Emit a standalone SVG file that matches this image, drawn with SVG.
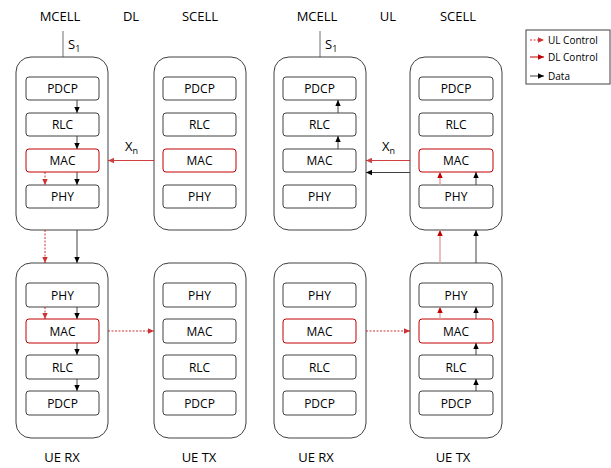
<svg xmlns="http://www.w3.org/2000/svg" width="611" height="468" viewBox="0 0 611 468">
<defs>
<style>
text{font-family:"Open Sans","Liberation Sans",sans-serif;fill:#000}
.hdr{font-size:13px;text-anchor:middle}
.lay{font-size:12px;text-anchor:middle}
.leg{font-size:10px}
.big{fill:#fff;stroke:#404040;stroke-width:1}
.in{fill:#fff;stroke:#404040;stroke-width:1}
.inr{fill:#fff;stroke:#c00000;stroke-width:1}
.blk{stroke:#404040;stroke-width:1;fill:none}
.red{stroke:#c00000;stroke-width:1;fill:none;opacity:0.75}
.redd{stroke:#c00000;stroke-width:1;fill:none;stroke-dasharray:2,1.5;opacity:0.8}
.redl{stroke:#e4a8a8;stroke-width:1.5;fill:none}
.s1{stroke:#707070;stroke-width:1}
</style>
<marker id="ab" viewBox="0 0 6 6" refX="6" refY="3" markerWidth="6" markerHeight="6" markerUnits="userSpaceOnUse" orient="auto"><path d="M0,0.3 L6,3 L0,5.7 z" fill="#000"/></marker>
<marker id="ar" viewBox="0 0 6 6" refX="6" refY="3" markerWidth="6" markerHeight="6" markerUnits="userSpaceOnUse" orient="auto"><path d="M0,0.3 L6,3 L0,5.7 z" fill="#c00000"/></marker>
</defs>
<rect width="611" height="468" fill="#fff"/>

<g id="headers">
<text class="hdr" x="60" y="21">MCELL</text>
<text class="hdr" x="131" y="21">DL</text>
<text class="hdr" x="200" y="21">SCELL</text>
<text class="hdr" x="317" y="21">MCELL</text>
<text class="hdr" x="388" y="21">UL</text>
<text class="hdr" x="458" y="21">SCELL</text>
<text class="hdr" x="62" y="462">UE RX</text>
<text class="hdr" x="199" y="462">UE TX</text>
<text class="hdr" x="316" y="462">UE RX</text>
<text class="hdr" x="453" y="462">UE TX</text>
</g>

<g id="s1-links">
<line class="s1" x1="63" y1="31" x2="63" y2="57"/>
<text x="68" y="49" font-size="13">S<tspan font-size="9" dy="3">1</tspan></text>
<line class="s1" x1="320" y1="31" x2="320" y2="57"/>
<text x="325" y="49" font-size="13">S<tspan font-size="9" dy="3">1</tspan></text>
</g>

<g id="dl-mcell">
<rect class="big" x="16" y="57" width="92" height="173" rx="15"/>
<rect class="in" x="26" y="77" width="73" height="23" rx="3"/><text class="lay" x="62.5" y="93">PDCP</text>
<rect class="in" x="26" y="113" width="73" height="23" rx="3"/><text class="lay" x="62.5" y="129">RLC</text>
<rect class="inr" x="26" y="149" width="73" height="23" rx="3"/><text class="lay" x="62.5" y="165">MAC</text>
<rect class="in" x="26" y="185" width="73" height="23" rx="3"/><text class="lay" x="62.5" y="201">PHY</text>
</g>

<g id="dl-scell">
<rect class="big" x="154" y="57" width="92" height="173" rx="15"/>
<rect class="in" x="163" y="77" width="73" height="23" rx="3"/><text class="lay" x="199.5" y="93">PDCP</text>
<rect class="in" x="163" y="113" width="73" height="23" rx="3"/><text class="lay" x="199.5" y="129">RLC</text>
<rect class="inr" x="163" y="149" width="73" height="23" rx="3"/><text class="lay" x="199.5" y="165">MAC</text>
<rect class="in" x="163" y="185" width="73" height="23" rx="3"/><text class="lay" x="199.5" y="201">PHY</text>
</g>

<g id="dl-uerx">
<rect class="big" x="16" y="263" width="92" height="175" rx="15"/>
<rect class="in" x="26" y="283" width="73" height="24" rx="3"/><text class="lay" x="62.5" y="299.5">PHY</text>
<rect class="inr" x="26" y="319" width="73" height="24" rx="3"/><text class="lay" x="62.5" y="335.5">MAC</text>
<rect class="in" x="26" y="355" width="73" height="24" rx="3"/><text class="lay" x="62.5" y="371.5">RLC</text>
<rect class="in" x="26" y="391" width="73" height="24" rx="3"/><text class="lay" x="62.5" y="407.5">PDCP</text>
</g>

<g id="dl-uetx">
<rect class="big" x="154" y="263" width="92" height="175" rx="15"/>
<rect class="in" x="163" y="283" width="73" height="24" rx="3"/><text class="lay" x="199.5" y="299.5">PHY</text>
<rect class="in" x="163" y="319" width="73" height="24" rx="3"/><text class="lay" x="199.5" y="335.5">MAC</text>
<rect class="in" x="163" y="355" width="73" height="24" rx="3"/><text class="lay" x="199.5" y="371.5">RLC</text>
<rect class="in" x="163" y="391" width="73" height="24" rx="3"/><text class="lay" x="199.5" y="407.5">PDCP</text>
</g>

<g id="ul-mcell">
<rect class="big" x="274" y="57" width="92" height="173" rx="15"/>
<rect class="in" x="283" y="77" width="73" height="23" rx="3"/><text class="lay" x="319.5" y="93">PDCP</text>
<rect class="in" x="283" y="113" width="73" height="23" rx="3"/><text class="lay" x="319.5" y="129">RLC</text>
<rect class="in" x="283" y="149" width="73" height="23" rx="3"/><text class="lay" x="319.5" y="165">MAC</text>
<rect class="in" x="283" y="185" width="73" height="23" rx="3"/><text class="lay" x="319.5" y="201">PHY</text>
</g>

<g id="ul-scell">
<rect class="big" x="410" y="57" width="92" height="173" rx="15"/>
<rect class="in" x="419" y="77" width="74" height="23" rx="3"/><text class="lay" x="456" y="93">PDCP</text>
<rect class="in" x="419" y="113" width="74" height="23" rx="3"/><text class="lay" x="456" y="129">RLC</text>
<rect class="inr" x="419" y="149" width="74" height="23" rx="3"/><text class="lay" x="456" y="165">MAC</text>
<rect class="in" x="419" y="185" width="74" height="23" rx="3"/><text class="lay" x="456" y="201">PHY</text>
</g>

<g id="ul-uerx">
<rect class="big" x="274" y="263" width="92" height="175" rx="15"/>
<rect class="in" x="283" y="283" width="73" height="24" rx="3"/><text class="lay" x="319.5" y="299.5">PHY</text>
<rect class="inr" x="283" y="319" width="73" height="24" rx="3"/><text class="lay" x="319.5" y="335.5">MAC</text>
<rect class="in" x="283" y="355" width="73" height="24" rx="3"/><text class="lay" x="319.5" y="371.5">RLC</text>
<rect class="in" x="283" y="391" width="73" height="24" rx="3"/><text class="lay" x="319.5" y="407.5">PDCP</text>
</g>

<g id="ul-uetx">
<rect class="big" x="410" y="263" width="92" height="175" rx="15"/>
<rect class="in" x="419" y="283" width="74" height="24" rx="3"/><text class="lay" x="456" y="299.5">PHY</text>
<rect class="inr" x="419" y="319" width="74" height="24" rx="3"/><text class="lay" x="456" y="335.5">MAC</text>
<rect class="in" x="419" y="355" width="74" height="24" rx="3"/><text class="lay" x="456" y="371.5">RLC</text>
<rect class="in" x="419" y="391" width="74" height="24" rx="3"/><text class="lay" x="456" y="407.5">PDCP</text>
</g>

<g id="connectors">
<!-- DL MCELL internal -->
<line class="blk" x1="77" y1="100" x2="77" y2="113" marker-end="url(#ab)"/>
<line class="blk" x1="77" y1="136" x2="77" y2="149" marker-end="url(#ab)"/>
<line class="blk" x1="77" y1="172" x2="77" y2="185" marker-end="url(#ab)"/>
<line class="redd" x1="45" y1="172" x2="45" y2="185" marker-end="url(#ar)"/>
<!-- DL MCELL to UE RX -->
<line class="blk" x1="77" y1="230" x2="77" y2="263" marker-end="url(#ab)"/>
<line class="redd" x1="45" y1="230" x2="45" y2="263" marker-end="url(#ar)"/>
<!-- DL UE RX internal -->
<line class="blk" x1="77" y1="307" x2="77" y2="319" marker-end="url(#ab)"/>
<line class="redd" x1="45" y1="307" x2="45" y2="319" marker-end="url(#ar)"/>
<line class="blk" x1="77" y1="343" x2="77" y2="355" marker-end="url(#ab)"/>
<line class="blk" x1="77" y1="379" x2="77" y2="391" marker-end="url(#ab)"/>
<!-- DL Xn -->
<line class="red" x1="154" y1="160.5" x2="108" y2="160.5" marker-end="url(#ar)"/>
<text x="125" y="151" font-size="13">X<tspan font-size="9" dy="3">n</tspan></text>
<!-- DL UE RX MAC to UE TX -->
<line class="redd" x1="108" y1="331" x2="154" y2="331" marker-end="url(#ar)"/>

<!-- UL MCELL internal -->
<line class="blk" x1="338" y1="113" x2="338" y2="100" marker-end="url(#ab)"/>
<line class="blk" x1="338" y1="149" x2="338" y2="136" marker-end="url(#ab)"/>
<!-- UL Xn -->
<line class="red" x1="410" y1="160.5" x2="366" y2="160.5" marker-end="url(#ar)"/>
<line class="blk" x1="410" y1="172.5" x2="366" y2="172.5" marker-end="url(#ab)"/>
<text x="382" y="151" font-size="13">X<tspan font-size="9" dy="3">n</tspan></text>
<!-- UL SCELL internal -->
<line class="redl" x1="440" y1="185" x2="440" y2="172" marker-end="url(#ar)"/>
<line class="blk" x1="476" y1="185" x2="476" y2="172" marker-end="url(#ab)"/>
<!-- UL UE TX to SCELL -->
<line class="redl" x1="440" y1="263" x2="440" y2="230" marker-end="url(#ar)"/>
<line class="blk" x1="476" y1="263" x2="476" y2="230" marker-end="url(#ab)"/>
<!-- UL UE TX internal -->
<line class="redl" x1="440" y1="319" x2="440" y2="307" marker-end="url(#ar)"/>
<line class="blk" x1="476" y1="319" x2="476" y2="307" marker-end="url(#ab)"/>
<line class="blk" x1="476" y1="355" x2="476" y2="343" marker-end="url(#ab)"/>
<line class="blk" x1="476" y1="391" x2="476" y2="379" marker-end="url(#ab)"/>
<!-- UL UE RX MAC to UE TX MAC -->
<line class="redd" x1="366" y1="331" x2="410" y2="331" marker-end="url(#ar)"/>
</g>

<g id="legend">
<rect x="526" y="30" width="84" height="54" fill="#fff" stroke="#404040" stroke-width="1"/>
<line class="redd" x1="530" y1="40" x2="544" y2="40" marker-end="url(#ar)"/>
<text class="leg" x="548" y="43.5">UL Control</text>
<line class="red" x1="530" y1="57" x2="544" y2="57" marker-end="url(#ar)" style="opacity:1"/>
<text class="leg" x="548" y="60.5">DL Control</text>
<line class="blk" x1="530" y1="76" x2="544" y2="76" marker-end="url(#ab)"/>
<text class="leg" x="548" y="79.5">Data</text>
</g>
</svg>
